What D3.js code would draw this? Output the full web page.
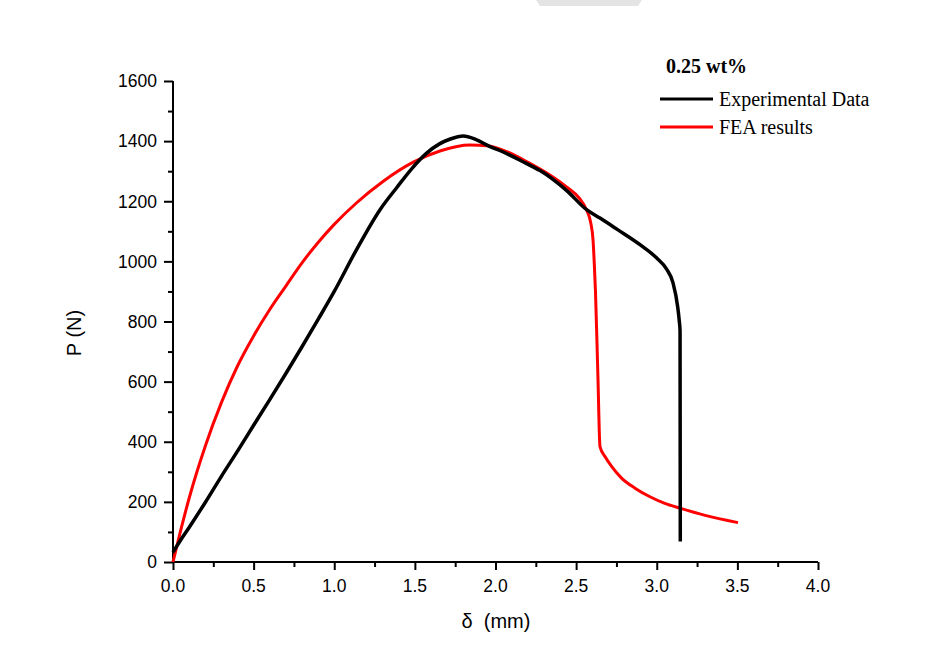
<!DOCTYPE html>
<html lang="en">
<head>
    <meta charset="UTF-8">
    <title>P vs delta</title>
    <style>
        body { margin: 0; background: #fff; }
        svg { display: block; }
    </style>
    <script src="https://d3js.org/d3.v7.min.js"></script>
</head>
<body>
    <div id="chart"></div>
    <script>
        // experimental curve (delta in mm, P in N)
        const expX = [0, 0.05, 0.1, 0.2, 0.3, 0.405, 0.5, 0.6, 0.7, 0.8, 0.9, 1.0, 1.129, 1.284, 1.387, 1.48, 1.573, 1.65, 1.72, 1.8, 1.88, 1.966, 2.03, 2.19, 2.276, 2.44, 2.567, 2.648, 2.75, 2.915, 3.0, 3.06, 3.1, 3.13, 3.14, 3.1445, 3.146];
        const expY = [33, 75, 115, 198, 285, 373, 455, 540, 627, 716, 807, 900, 1030, 1172, 1245, 1308, 1360, 1390, 1407, 1417, 1405, 1382, 1368, 1326, 1302, 1236, 1171, 1144, 1108, 1048, 1011, 975, 930, 848, 800, 770, 68];

        // FEA curve
        const feaX = [0, 0.05, 0.1, 0.2, 0.3, 0.4, 0.5, 0.6, 0.7, 0.8, 0.9, 1.0, 1.139, 1.3, 1.49, 1.66, 1.84, 1.95, 2.07, 2.21, 2.33, 2.44, 2.52, 2.565, 2.59, 2.605, 2.612, 2.62, 2.635, 2.648, 2.68, 2.72, 2.78, 2.87, 2.958, 3.05, 3.144, 3.3, 3.504];
        const feaY = [0, 110, 212, 385, 530, 652, 752, 840, 918, 995, 1063, 1123, 1195, 1265, 1330, 1368, 1387, 1385, 1365, 1327, 1290, 1248, 1210, 1171, 1130, 1071, 1000, 900, 620, 384, 350, 318, 280, 244, 217, 195, 179, 155, 131];

        const xTicks = [0, 0.5, 1.0, 1.5, 2.0, 2.5, 3.0, 3.5, 4.0];
        const yTicks = [0, 200, 400, 600, 800, 1000, 1200, 1400, 1600];

        const width = 936, height = 666;
        const svg = d3.select("#chart").append("svg")
            .attr("width", width)
            .attr("height", height);

        // small grey tab at the top edge
        svg.append("polygon")
            .attr("points", "536,0 642,0 638,6 540,6")
            .attr("fill", "#e4e4e4");

        const x = d3.scaleLinear().domain([0, 4]).range([173, 818]);
        const y = d3.scaleLinear().domain([0, 1600]).range([562, 81]);

        const font = "'Liberation Sans', Arial, sans-serif";
        const serif = "'Liberation Serif', 'Times New Roman', serif";

        // x axis
        const xAxis = svg.append("g")
            .attr("transform", `translate(0,${y(0)})`)
            .call(d3.axisBottom(x).tickValues(d3.range(0, 4.01, 0.25)).tickSize(0).tickFormat(""));
        xAxis.selectAll(".tick line")
            .attr("y2", (d, i) => i % 2 === 0 ? 8 : 5)
            .attr("stroke", "#000").attr("stroke-width", 2);
        xAxis.select(".domain").attr("stroke-width", 2).attr("d", `M${x(0)},0H${x(4)}`);
        svg.append("g").selectAll("text")
            .data(xTicks)
            .join("text")
            .attr("x", d => x(d))
            .attr("y", 592)
            .attr("text-anchor", "middle")
            .attr("font-family", font)
            .attr("font-size", 17.5)
            .text(d => d.toFixed(1));

        // y axis
        const yAxis = svg.append("g")
            .attr("transform", `translate(${x(0)},0)`)
            .call(d3.axisLeft(y).tickValues(d3.range(0, 1601, 100)).tickSize(0).tickFormat(""));
        yAxis.selectAll(".tick line")
            .attr("x2", (d, i) => i % 2 === 0 ? -9 : -5)
            .attr("stroke", "#000").attr("stroke-width", 2);
        yAxis.select(".domain").attr("stroke-width", 2).attr("d", `M0,${y(0)}V${y(1600)}`);
        svg.append("g").selectAll("text")
            .data(yTicks)
            .join("text")
            .attr("x", 157)
            .attr("y", d => y(d))
            .attr("dy", "0.36em")
            .attr("text-anchor", "end")
            .attr("font-family", font)
            .attr("font-size", 17.5)
            .text(d => d);

        // axis titles
        svg.append("text")
            .attr("transform", "translate(81,333) rotate(-90)")
            .attr("text-anchor", "middle")
            .attr("font-family", font)
            .attr("font-size", 20)
            .text("P (N)");
        svg.append("text")
            .attr("x", 496)
            .attr("y", 628)
            .attr("text-anchor", "middle")
            .attr("font-family", font)
            .attr("font-size", 20)
            .attr("xml:space", "preserve")
            .text("\u03b4  (mm)");

        // curves
        const smooth = d3.line().x(d => x(d[0])).y(d => y(d[1])).curve(d3.curveMonotoneX);

        svg.append("path")
            .datum(d3.zip(feaX, feaY))
            .attr("fill", "none")
            .attr("stroke", "#ff0000")
            .attr("stroke-width", 3)
            .attr("d", smooth);

        svg.append("path")
            .datum(d3.zip(expX, expY))
            .attr("fill", "none")
            .attr("stroke", "#000")
            .attr("stroke-width", 3.5)
            .attr("stroke-linejoin", "round")
            .attr("d", smooth);

        // legend
        svg.append("text")
            .attr("x", 666)
            .attr("y", 73)
            .attr("font-family", serif)
            .attr("font-weight", "bold")
            .attr("font-size", 20)
            .text("0.25 wt%");

        const legend = [["Experimental Data", "#000", 99], ["FEA results", "#ff0000", 127]];
        legend.forEach(([label, color, ly]) => {
            svg.append("line")
                .attr("x1", 660).attr("x2", 713)
                .attr("y1", ly).attr("y2", ly)
                .attr("stroke", color)
                .attr("stroke-width", 3);
            svg.append("text")
                .attr("x", 719)
                .attr("y", ly + 7)
                .attr("font-family", serif)
                .attr("font-size", 20)
                .text(label);
        });
    </script>
</body>
</html>
